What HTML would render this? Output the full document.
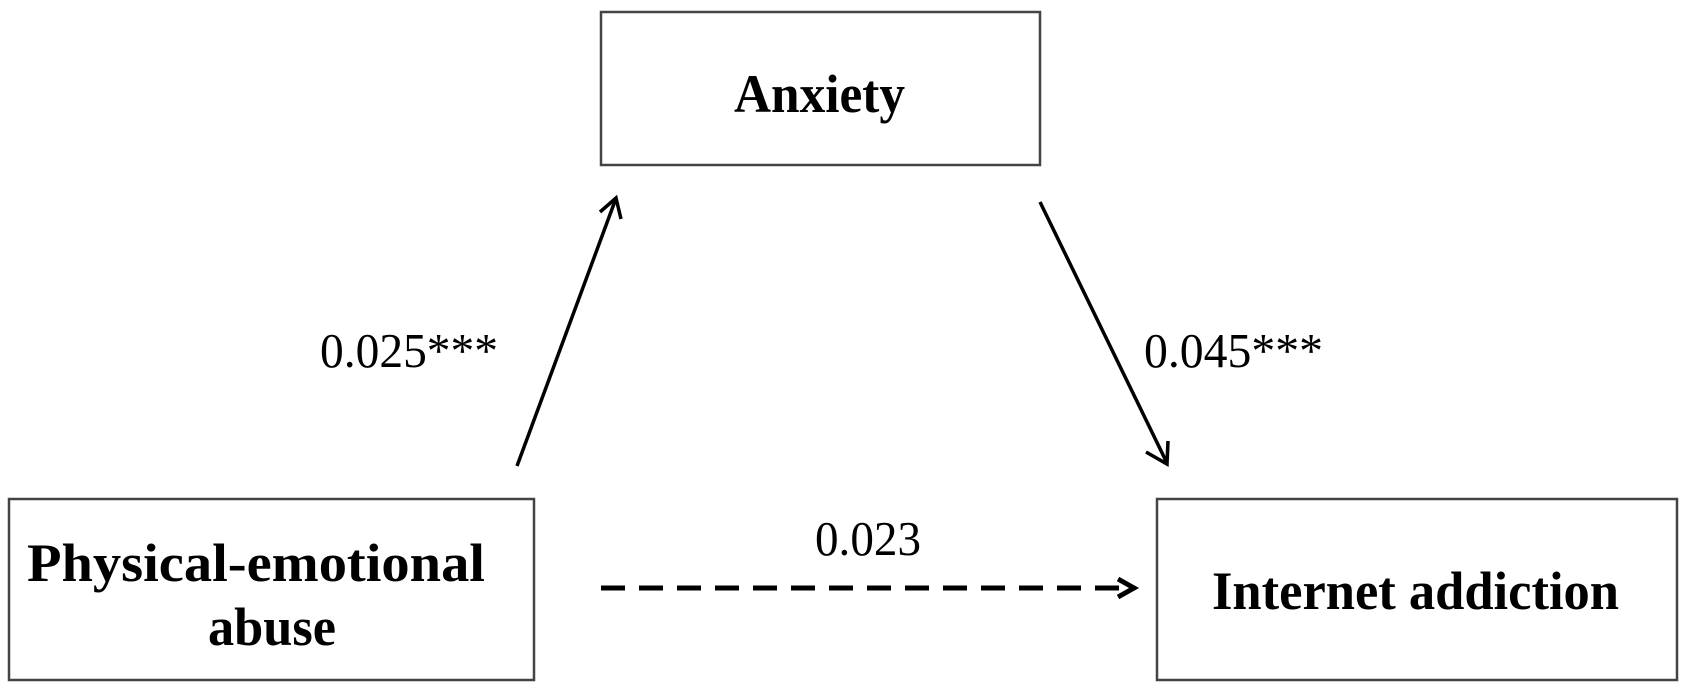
<!DOCTYPE html>
<html><head><meta charset="utf-8"><style>
html,body{margin:0;padding:0;background:#fff;}
svg{display:block;}
text{font-family:"Liberation Serif",serif;fill:#000;}
.b{font-weight:bold;font-size:54px;}
.n{font-size:49px;}
</style></head><body>
<svg width="1688" height="689" viewBox="0 0 1688 689" xmlns="http://www.w3.org/2000/svg">
<g fill="none" stroke="#444" stroke-width="2.5">
<rect x="601" y="12" width="439" height="153"/>
<rect x="9" y="499" width="525" height="181"/>
<rect x="1157" y="499" width="520" height="181"/>
</g>
<g stroke="#000" stroke-width="3.5" fill="none">
<line x1="517" y1="466" x2="615" y2="201"/>
<path d="M600,212 L616,198 L621,219"/>
<line x1="1040" y1="202" x2="1166" y2="461"/>
<path d="M1146,452 L1167,464 L1168,441"/>
<line x1="601" y1="588" x2="1124" y2="588" stroke-dasharray="24,14" stroke-width="5"/>
<path d="M1118,579 L1134,588 L1118,597" stroke-width="5"/>
</g>
<text class="b" x="734" y="112" textLength="171" lengthAdjust="spacingAndGlyphs">Anxiety</text>
<text class="b" x="27" y="581" textLength="458" lengthAdjust="spacingAndGlyphs">Physical-emotional</text>
<text class="b" x="208" y="645" textLength="128" lengthAdjust="spacingAndGlyphs">abuse</text>
<text class="b" x="1212" y="609" textLength="407" lengthAdjust="spacingAndGlyphs">Internet addiction</text>
<text class="n" x="320" y="367" textLength="178" lengthAdjust="spacingAndGlyphs">0.025***</text>
<text class="n" x="1144" y="367" textLength="179" lengthAdjust="spacingAndGlyphs">0.045***</text>
<text class="n" x="815" y="555" textLength="106" lengthAdjust="spacingAndGlyphs">0.023</text>
</svg>
</body></html>
